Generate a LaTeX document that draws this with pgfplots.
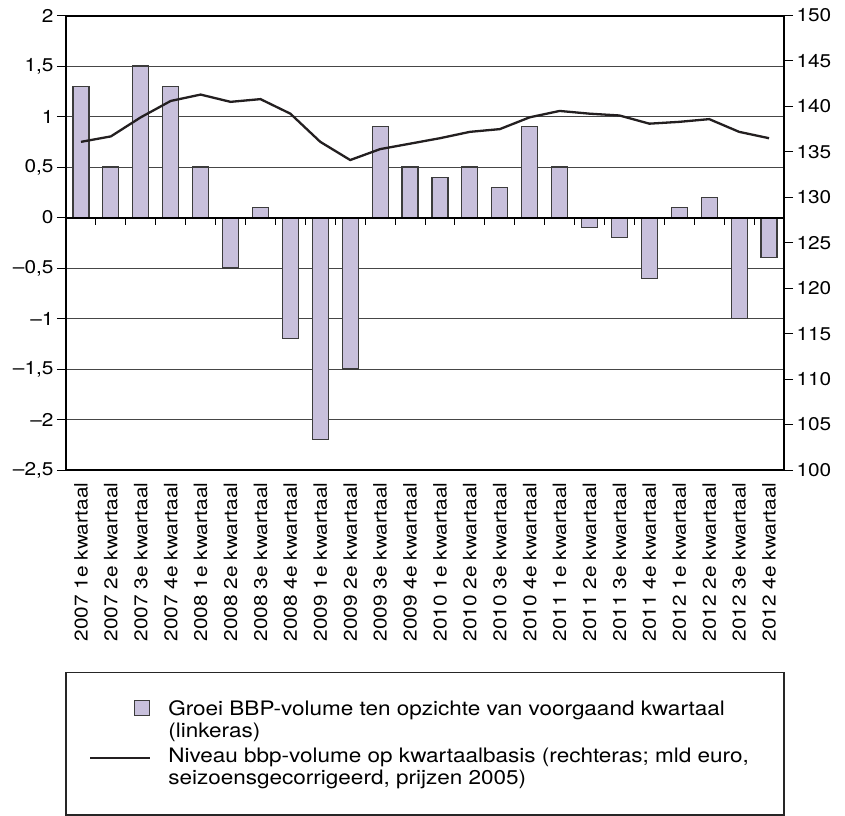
\documentclass[border=0pt]{standalone}
\usepackage{fontspec}
\setmainfont{TeX Gyre Heros}[FakeStretch=1.13]
\usepackage{pgfplots}
\usepackage{pgfplotstable}
\pgfplotsset{compat=1.18}
\definecolor{barfill}{RGB}{200,192,220}
\definecolor{bardraw}{RGB}{60,60,60}
\definecolor{gridc}{RGB}{70,70,70}
\definecolor{linec}{RGB}{35,31,32}
\newcommand{\ticksize}{\fontsize{18.5}{22}\selectfont}
\newcommand{\legsize}{\fontsize{20}{19}\selectfont}
\newcommand{\strA}{\rule{0pt}{16bp}}
\newcommand{\strB}{\rule{0pt}{19bp}}

\pgfplotstableread{
x g n
0 1.3 136.1
1 0.5 136.7
2 1.5 138.8
3 1.3 140.6
4 0.5 141.3
5 -0.5 140.5
6 0.1 140.8
7 -1.2 139.2
8 -2.2 136.1
9 -1.5 134.1
10 0.9 135.3
11 0.5 135.9
12 0.4 136.5
13 0.5 137.2
14 0.3 137.5
15 0.9 138.8
16 0.5 139.5
17 -0.1 139.2
18 -0.2 139.0
19 -0.6 138.1
20 0.1 138.3
21 0.2 138.6
22 -1.0 137.2
23 -0.4 136.5
}\data

\begin{document}
\begin{tikzpicture}
\path[use as bounding box] (-66bp,-346bp) rectangle (779bp,470bp);
\begin{axis}[
  scale only axis, width=718bp, height=454.5bp,
  xmin=-0.5, xmax=23.5, ymin=-2.5, ymax=2,
  axis line style={black, line width=2bp},
  ytick={-2.5,-2,-1.5,-1,-0.5,0,0.5,1,1.5,2},
  yticklabels={{\textendash2,5},{\textendash2},{\textendash1,5},{\textendash1},{\textendash0,5},0,{0,5},1,{1,5},2},
  ytick pos=left,
  tick align=outside,
  major tick length=9bp,
  y tick style={black, line width=1bp},
  ymajorgrids, grid style={gridc, line width=1bp},
  xtick={0,...,23},
  xticklabels={2007 1e kwartaal,2007 2e kwartaal,2007 3e kwartaal,2007 4e kwartaal,
    2008 1e kwartaal,2008 2e kwartaal,2008 3e kwartaal,2008 4e kwartaal,
    2009 1e kwartaal,2009 2e kwartaal,2009 3e kwartaal,2009 4e kwartaal,
    2010 1e kwartaal,2010 2e kwartaal,2010 3e kwartaal,2010 4e kwartaal,
    2011 1e kwartaal,2011 2e kwartaal,2011 3e kwartaal,2011 4e kwartaal,
    2012 1e kwartaal,2012 2e kwartaal,2012 3e kwartaal,2012 4e kwartaal},
  xtick pos=bottom,
  x tick style={draw=none},
  xticklabel style={rotate=90, anchor=east, font=\ticksize},
  yticklabel style={font=\ticksize},
  legend style={at={(0,0)}, anchor=north west, xshift=23bp, yshift=-229.5bp,
    draw=none, fill=none, inner sep=0pt, outer sep=0pt, row sep=4.5bp,
    column sep=17bp, font=\legsize, cells={anchor=base west, text depth=0pt}, nodes={inner sep=0pt}},
]
\addplot[ybar, bar width=16bp, fill=barfill, draw=bardraw, line width=1.1bp,
  legend image code/.code={\draw[fill=barfill, draw=bardraw, line width=1bp] (44bp,0bp) rectangle (59bp,14.7bp);}]
  table[x=x,y=g]{\data};
\addlegendentry{\strA Groei BBP-volume ten opzichte van voorgaand kwartaal}
\addlegendimage{empty legend}
\addlegendentry{\strA(linkeras)}
\addlegendimage{legend image code/.code={\draw[linec, line width=2.3bp] (0,4.5bp) -- (60bp,4.5bp);}}
\addlegendentry{\strB Niveau bbp-volume op kwartaalbasis (rechteras; mld euro,}
\addlegendimage{empty legend}
\addlegendentry{\strA seizoensgecorrigeerd, prijzen 2005)}
\draw[black, line width=2bp] (axis cs:-0.5,0) -- (axis cs:23.5,0);
\pgfplotsinvokeforeach{0,...,22}{\draw[black, line width=1bp] (axis cs:#1.5,0) -- ([yshift=-7bp]axis cs:#1.5,0);}
\end{axis}
\begin{axis}[
  scale only axis, width=718bp, height=454.5bp,
  xmin=-0.5, xmax=23.5, ymin=100, ymax=150,
  axis x line=none, axis y line*=right,
  ytick={100,105,110,115,120,125,130,135,140,145,150},
  yticklabels={100,105,110,115,120,125,130,135,140,145,150},
  tick align=outside, major tick length=9bp,
  y tick style={black, line width=1bp},
  axis line style={black, line width=2bp},
  yticklabel style={font=\ticksize},
]
\addplot[linec, line width=2.3bp] table[x=x,y=n]{\data};
\end{axis}
\draw[black!85, line width=1.5bp] (0,-202.7bp) rectangle (718bp,-345bp);
\end{tikzpicture}
\end{document}
